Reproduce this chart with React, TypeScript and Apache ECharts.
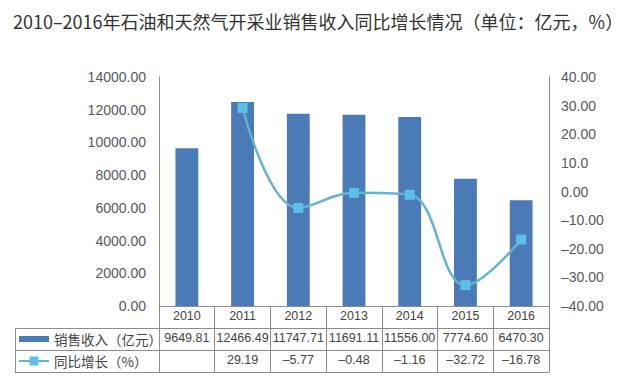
import React, { useEffect, useRef } from 'react';
import * as echarts from 'echarts';

const titleText = '2010–2016年石油和天然气开采业销售收入同比增长情况（单位：亿元，%）';
const years = ['2010', '2011', '2012', '2013', '2014', '2015', '2016'];
const salesName = '销售收入（亿元）';
const growthName = '同比增长（%）';
const sales = [9649.81, 12466.49, 11747.71, 11691.11, 11556.0, 7774.6, 6470.3];
const growth: (number | null)[] = [null, 29.19, -5.77, -0.48, -1.16, -32.72, -16.78];
const leftTickLabels = ['0.00', '2000.00', '4000.00', '6000.00', '8000.00', '10000.00', '12000.00', '14000.00'];
const rightTickLabels = ['–40.00', '–30.00', '–20.00', '–10.00', '0.00', '10.0', '20.00', '30.00', '40.00'];

const W = 625;
const H = 383;
const gridLeft = 159;
const gridRight = 549;
const gridTop = 77;
const gridBottom = 306;
const rowH = 22;
const tableLeft = 15;

const lineColor = '#8c8c8c';
const textColor = '#444';
const fontFamily = '"Liberation Sans", "Noto Sans CJK SC", sans-serif';
const cjkFont = '"Noto Sans CJK SC", sans-serif';

const salesLabels = sales.map((v) => v.toFixed(2));
const growthLabels = growth.map((v) => (v == null ? '' : v.toFixed(2).replace('-', '–')));

export default function App() {
  const ref = useRef<HTMLDivElement>(null);
  useEffect(() => {
    if (!ref.current) return;
    const chart = echarts.init(ref.current, null, { renderer: 'svg' });
    const tableAxis = (data: string[], offset: number, showLabel: boolean, showTick: boolean) => ({
      type: 'category',
      data,
      position: 'bottom',
      offset,
      boundaryGap: true,
      axisLine: { show: true, onZero: false, lineStyle: { color: lineColor, width: 1 } },
      axisTick: { show: showTick, length: rowH, interval: 0, lineStyle: { color: lineColor, width: 1 } },
      axisLabel: { show: showLabel, interval: 0, margin: 4, color: textColor, fontSize: 12.5, fontFamily },
      splitLine: { show: false },
    });
    const hLine = (y: number) => ({
      type: 'line',
      shape: { x1: tableLeft, y1: y + 0.5, x2: gridLeft, y2: y + 0.5 },
      style: { stroke: lineColor, lineWidth: 1 },
    });
    chart.setOption({
      animation: false,
      textStyle: { fontFamily },
      title: {
        text: titleText,
        left: 13,
        top: 12,
        padding: 0,
        textStyle: { fontSize: 18, fontWeight: 'normal', color: '#333', fontFamily: cjkFont },
      },
      legend: {
        orient: 'vertical',
        left: tableLeft + 3,
        top: gridBottom + rowH,
        padding: 0,
        itemGap: 0,
        itemWidth: 30,
        itemHeight: 11,
        textStyle: { color: textColor, fontSize: 13.5, lineHeight: rowH, fontFamily: cjkFont },
        data: [
          { name: salesName, icon: 'path://M0,0 L30,0 L30,6 L0,6 Z' },
          { name: growthName },
        ],
      },
      grid: { left: gridLeft, right: W - gridRight, top: gridTop, bottom: H - gridBottom, containLabel: false },
      xAxis: [
        tableAxis(years, 0, true, true),
        tableAxis(salesLabels, rowH, true, true),
        tableAxis(growthLabels, rowH * 2, true, true),
        tableAxis(years, rowH * 3, false, false),
      ],
      yAxis: [
        {
          type: 'value',
          min: 0,
          max: 14000,
          interval: 2000,
          axisLine: { show: true, lineStyle: { color: lineColor } },
          axisTick: { show: false },
          splitLine: { show: false },
          axisLabel: {
            margin: 13,
            color: '#595959',
            fontSize: 14,
            formatter: (v: number) => leftTickLabels[Math.round(v / 2000)],
          },
        },
        {
          type: 'value',
          position: 'right',
          min: -40,
          max: 40,
          interval: 10,
          axisLine: { show: true, lineStyle: { color: lineColor } },
          axisTick: { show: false },
          splitLine: { show: false },
          axisLabel: {
            margin: 12,
            color: '#595959',
            fontSize: 14,
            formatter: (v: number) => rightTickLabels[Math.round((v + 40) / 10)],
          },
        },
      ],
      series: [
        {
          name: salesName,
          type: 'bar',
          data: sales,
          barWidth: '41%',
          itemStyle: { color: '#4a7bb7' },
        },
        {
          name: growthName,
          type: 'line',
          yAxisIndex: 1,
          data: growth,
          smooth: 0.4,
          symbol: 'rect',
          symbolSize: 10,
          connectNulls: false,
          lineStyle: { color: '#66b3cc', width: 2.5 },
          itemStyle: { color: '#5cbfe8' },
        },
      ],
      graphic: [
        hLine(gridBottom + rowH),
        hLine(gridBottom + rowH * 2),
        hLine(gridBottom + rowH * 3),
        {
          type: 'line',
          shape: { x1: tableLeft + 0.5, y1: gridBottom + rowH, x2: tableLeft + 0.5, y2: gridBottom + rowH * 3 },
          style: { stroke: lineColor, lineWidth: 1 },
        },
      ],
    });
    return () => chart.dispose();
  }, []);
  return <div ref={ref} style={{ position: 'absolute', left: 0, top: 0, width: W, height: H, background: '#fff' }} />;
}
